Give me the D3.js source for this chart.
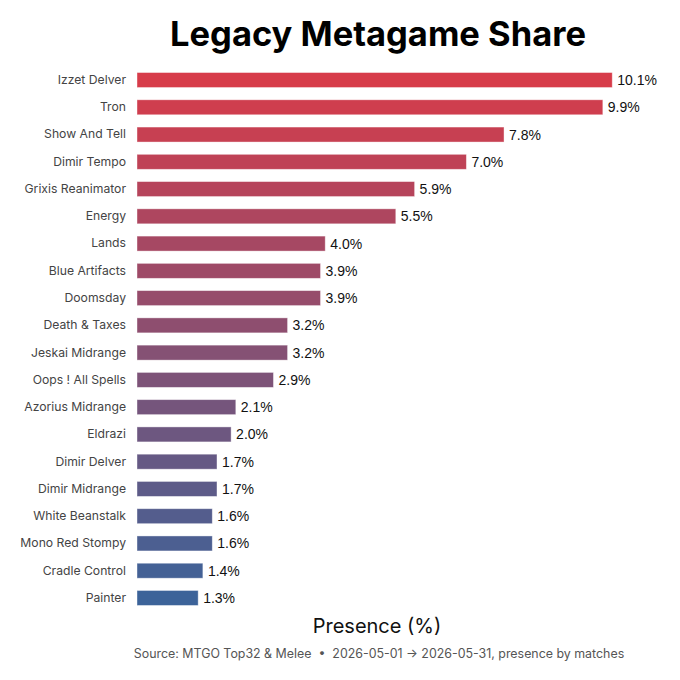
<!DOCTYPE html>
<html>
<head>
<meta charset="utf-8">
<script src="https://cdn.jsdelivr.net/npm/d3@7"></script>
<style>
  body { margin: 0; background: #fff; }
  text { font-family: Inter, "Noto Sans", sans-serif; }
</style>
</head>
<body>
<div id="chart"></div>
<script>
// data
const decks = ["Izzet Delver", "Tron", "Show And Tell", "Dimir Tempo", "Grixis Reanimator",
  "Energy", "Lands", "Blue Artifacts", "Doomsday", "Death & Taxes", "Jeskai Midrange",
  "Oops ! All Spells", "Azorius Midrange", "Eldrazi", "Dimir Delver", "Dimir Midrange",
  "White Beanstalk", "Mono Red Stompy", "Cradle Control", "Painter"];
const presence = [10.1, 9.9, 7.8, 7.0, 5.9, 5.5, 4.0, 3.9, 3.9, 3.2, 3.2, 2.9, 2.1, 2.0,
  1.7, 1.7, 1.6, 1.6, 1.4, 1.3];
const colorStops = ["#d73c4a", "#3c6399"];

const W = 680, H = 680;
const margin = { top: 66.4, right: 63, bottom: 68.4, left: 137 };
const innerW = W - margin.left - margin.right;

const svg = d3.select("#chart").append("svg")
  .attr("width", W).attr("height", H);

const x = d3.scaleLinear()
  .domain([0, d3.max(presence) * 1.01])
  .range([margin.left, W - margin.right]);

const y = d3.scaleBand()
  .domain(decks)
  .range([margin.top, H - margin.bottom])
  .paddingInner(0.45)
  .paddingOuter(0.225);

const color = d3.scaleLinear()
  .domain([0, decks.length - 1])
  .range(colorStops)
  .interpolate(d3.interpolateRgb);

// titel
svg.append("text")
  .attr("x", 378).attr("y", 46)
  .attr("text-anchor", "middle")
  .style("font-size", "34.5px").style("font-weight", 700).style("fill", "#000")
  .text("Legacy Metagame Share");

// bars
svg.selectAll("rect.bar")
  .data(decks)
  .enter().append("rect")
  .attr("class", "bar")
  .attr("x", x(0))
  .attr("y", d => y(d))
  .attr("width", (d, i) => x(presence[i]) - x(0))
  .attr("height", y.bandwidth())
  .attr("fill", (d, i) => color(i))
  .attr("stroke", "#fff")
  .attr("stroke-opacity", 0.5)
  .attr("stroke-width", 0.8);

// y axis labels
const yAxis = svg.append("g")
  .attr("transform", `translate(${x(0)},0)`)
  .call(d3.axisLeft(y).tickSize(0).tickPadding(11));
yAxis.select(".domain").remove();
yAxis.selectAll("text")
  .style("font-family", "Inter, sans-serif")
  .style("font-size", "12.2px")
  .style("fill", "#444");

// value labels
svg.selectAll("text.val")
  .data(decks)
  .enter().append("text")
  .attr("class", "val")
  .attr("x", (d, i) => x(presence[i]) + 5)
  .attr("y", d => y(d) + y.bandwidth() / 2)
  .attr("dy", "0.36em")
  .style("font-family", "'Liberation Sans', Arial, sans-serif")
  .style("font-size", "14px").style("fill", "#111")
  .text((d, i) => presence[i].toFixed(1) + "%");

// axis title
svg.append("text")
  .attr("x", margin.left + innerW / 2).attr("y", 633)
  .attr("text-anchor", "middle")
  .style("font-size", "20px").style("fill", "#111")
  .text("Presence (%)");

// source
svg.append("text")
  .attr("x", 379).attr("y", 658)
  .attr("text-anchor", "middle")
  .style("font-size", "12.4px").style("fill", "#555")
  .attr("xml:space", "preserve")
  .text("Source: MTGO Top32 & Melee  \u2022  2026-05-01 \u2192 2026-05-31, presence by matches");
</script>
</body>
</html>
